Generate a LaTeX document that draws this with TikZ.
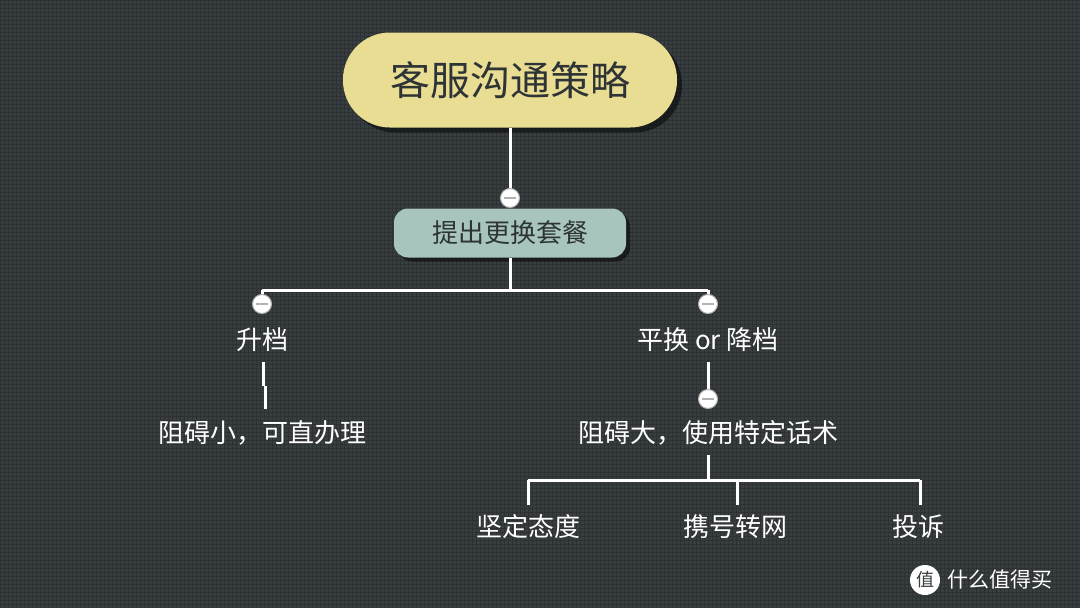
\documentclass[tikz,border=0pt]{standalone}
\usepackage{fontspec}
\setmainfont{Noto Sans CJK SC}
\usetikzlibrary{shadows}
\definecolor{bg}{HTML}{383D40}
\definecolor{topc}{HTML}{E8DD92}
\definecolor{secc}{HTML}{A7C5BD}
\definecolor{txt}{HTML}{2E3436}
\begin{document}
\begin{tikzpicture}[x=1pt,y=-1pt,
  lbl/.style={text=white,font=\fontsize{26}{29}\selectfont,inner sep=0},
  ln/.style={draw=white,line width=3pt},
  col/.style={circle,draw=gray!60,line width=1pt,fill=white,minimum size=19pt,inner sep=0,
     path picture={\draw[gray!60,line width=1.6pt] ([xshift=-6pt]path picture bounding box.center)--([xshift=6pt]path picture bounding box.center);}}]
\fill[bg] (0,0) rectangle (1080,608);
\useasboundingbox (0,0) rectangle (1080,608);
\foreach \i in {0,4,...,1080} \draw[black!20!bg,line width=0.3pt] (\i,0)--(\i,608);
\foreach \i in {0,4,...,608} \draw[black!20!bg,line width=0.3pt] (0,\i)--(1080,\i);
\node[fill=topc,rounded corners=47pt,minimum width=334pt,minimum height=95pt,text=txt,font=\fontsize{40}{44}\selectfont,
  drop shadow={shadow xshift=5pt,shadow yshift=-5pt,fill=black,opacity=0.5}] (root) at (510,80) {客服沟通策略};
\node[fill=secc,rounded corners=14pt,minimum width=232pt,minimum height=49pt,text=txt,font=\fontsize{26}{29}\selectfont,
  drop shadow={shadow xshift=4pt,shadow yshift=-4pt,fill=black,opacity=0.5}] (sub) at (510,233) {提出更换套餐};
\coordinate (j1) at (510,290);
\coordinate (jl) at (262,290);
\coordinate (jr) at (708,290);
\draw[ln] (root.south) -- (510,190);
\draw[ln] (sub.south) -- (j1);
\draw[ln] (jl) -- (jr);
\draw[ln] (jl) -- (262,300);
\draw[ln] (jr) -- (708,300);
\node[col] (c1) at (510,198) {};
\node[col] (c2) at (262,304) {};
\node[col] (c3) at (708,304) {};
\node[lbl] (up) at (262,340) {升档};
\node[lbl] (down) at (708,340) {平换 or 降档};
\node[lbl] (small) at (262,433) {阻碍小，可直办理};
\node[lbl] (big) at (708,433) {阻碍大，使用特定话术};
\coordinate (k1) at (263,386);
\coordinate (k2) at (265,386);
\draw[ln] (263,362) -- (k1);
\draw[ln] (k2) -- (265,409);
\draw[ln] (708,362) -- (708,392);
\node[col] (c4) at (708,399) {};
\coordinate (j2) at (708,480);
\coordinate (a) at (528,480);
\coordinate (b) at (737,480);
\coordinate (c) at (920,480);
\draw[ln] (708,455) -- (j2);
\draw[ln] (a) -- (c);
\node[lbl] (t1) at (528,527) {坚定态度};
\node[lbl] (t2) at (735,527) {携号转网};
\node[lbl] (t3) at (918,527) {投诉};
\draw[ln] (a) -- (528,505);
\draw[ln] (b) -- (737,505);
\draw[ln] (c) -- (920,505);
\node[circle,fill=white,minimum size=30pt,inner sep=0,text=bg,font=\fontsize{18}{20}\selectfont] (logo) at (925,580) {值};
\node[text=white,font=\fontsize{21}{24}\selectfont,anchor=west,inner sep=0] (wm) at (947,580) {什么值得买};
\end{tikzpicture}
\end{document}
